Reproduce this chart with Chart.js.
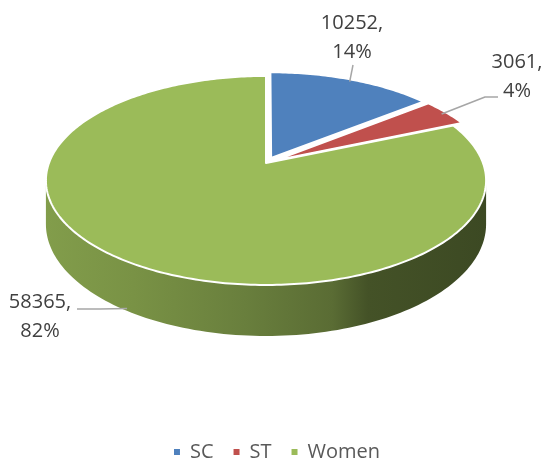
<!DOCTYPE html>
<html>
<head>
<meta charset="utf-8">
<script src="https://cdn.jsdelivr.net/npm/chart.js@4.4.1/dist/chart.umd.min.js"></script>
<style>
  html, body { margin: 0; padding: 0; background: #fff; overflow: hidden; }
  #wrap { width: 546px; height: 472px; position: relative; }
</style>
</head>
<body>
<div id="wrap"><canvas id="myChart"></canvas></div>
<script>
const categories = ["SC", "ST", "Women"];
const values = [10252, 3061, 58365];
const sliceColors = ["#4f81bd", "#c0504d", "#9bbb59"];

const FONT = "'Open Sans', 'Noto Sans', sans-serif";

// 3d look: the unit circle is squashed with a bit of perspective
const CX = 266, CY = 163;      // apex of the pie
const RX = 217, RY = 101.6;
const PERSP = 0.167;           // near side bigger than far side
const DEPTH = 42.5;            // thickness

// label text spots (baseline of first line) and leader starts
const labelPos = [[352, 29], [517, 68], [40, 308]];
const leaderStart = [[353, 65], [498, 97], [77, 309]];
const leaderElbow = [null, [485, 97], [100, 309]];

function proj(u, v, down) {
  const w = 1 - PERSP * v;
  return [CX + RX * u / w, CY + (RY * v + (down || 0)) / w];
}

function shade(hex, f) {
  const n = parseInt(hex.slice(1), 16);
  const r = Math.round(((n >> 16) & 255) * f);
  const g = Math.round(((n >> 8) & 255) * f);
  const b = Math.round((n & 255) * f);
  return `rgb(${r},${g},${b})`;
}

function explodeOf(el) {
  const d = (el.options.offset || 0) / 100;
  const mid = (el.startAngle + el.endAngle) / 2;
  return [Math.cos(mid) * d, Math.sin(mid) * d];
}

// whole percents that add up to 100 (largest remainder)
function percents(vals) {
  const total = vals.reduce((a, b) => a + b, 0);
  const raw = vals.map(v => v / total * 100);
  const out = raw.map(Math.floor);
  let left = 100 - out.reduce((a, b) => a + b, 0);
  raw.map((r, i) => [r - Math.floor(r), i])
    .sort((a, b) => b[0] - a[0])
    .forEach(([, i]) => { if (left > 0) { out[i]++; left--; } });
  return out;
}

const pie3d = {
  id: 'pie3d',
  beforeDatasetsDraw(chart) {
    const ctx = chart.ctx;
    const arcs = chart.getDatasetMeta(0).data;
    const lo = Math.asin(PERSP), hi = Math.PI - Math.asin(PERSP);

    // side walls first
    arcs.forEach((el, i) => {
      const a = Math.max(el.startAngle, lo), b = Math.min(el.endAngle, hi);
      if (a >= b) return;
      const [ox, oy] = explodeOf(el);
      const grad = ctx.createLinearGradient(CX - RX * 1.02, 0, CX + RX * 1.02, 0);
      const base = sliceColors[i];
      [[0, 0.84], [0.2, 0.78], [0.45, 0.68], [0.65, 0.58], [0.73, 0.44], [1, 0.39]]
        .forEach(s => grad.addColorStop(s[0], shade(base, s[1])));
      ctx.beginPath();
      const n = 120;
      for (let k = 0; k <= n; k++) {
        const t = a + (b - a) * k / n;
        const p = proj(ox + Math.cos(t), oy + Math.sin(t));
        k ? ctx.lineTo(p[0], p[1]) : ctx.moveTo(p[0], p[1]);
      }
      for (let k = n; k >= 0; k--) {
        const t = a + (b - a) * k / n;
        const p = proj(ox + Math.cos(t), oy + Math.sin(t), DEPTH);
        ctx.lineTo(p[0], p[1]);
      }
      ctx.closePath();
      ctx.fillStyle = grad;
      ctx.fill();
    });

    // top faces
    arcs.forEach((el, i) => {
      const [ox, oy] = explodeOf(el);
      const s = el.startAngle, e = el.endAngle;
      ctx.beginPath();
      const c = proj(ox, oy);
      ctx.moveTo(c[0], c[1]);
      const n = Math.max(8, Math.ceil((e - s) * 60));
      for (let k = 0; k <= n; k++) {
        const t = s + (e - s) * k / n;
        const p = proj(ox + Math.cos(t), oy + Math.sin(t));
        ctx.lineTo(p[0], p[1]);
      }
      ctx.closePath();
      ctx.fillStyle = sliceColors[i];
      ctx.fill();
      ctx.lineWidth = 2;
      ctx.lineJoin = 'round';
      ctx.strokeStyle = '#ffffff';
      ctx.stroke();
    });
    return false;
  },
  afterDraw(chart) {
    const ctx = chart.ctx;
    const arcs = chart.getDatasetMeta(0).data;
    const pcts = percents(values);
    ctx.save();
    arcs.forEach((el, i) => {
      // leader line to the slice
      const [ox, oy] = explodeOf(el);
      const mid = (el.startAngle + el.endAngle) / 2;
      const front = Math.sin(mid) > 0.3;
      const end = front
        ? proj(ox + Math.cos(mid), oy + Math.sin(mid), DEPTH * 0.95)
        : proj(ox + 0.97 * Math.cos(mid), oy + 0.97 * Math.sin(mid));
      ctx.beginPath();
      ctx.moveTo(leaderStart[i][0], leaderStart[i][1]);
      if (leaderElbow[i]) ctx.lineTo(leaderElbow[i][0], leaderElbow[i][1]);
      ctx.lineTo(end[0], end[1]);
      ctx.strokeStyle = '#a6a6a6';
      ctx.lineWidth = 1.5;
      ctx.stroke();

      ctx.fillStyle = '#404040';
      ctx.font = `20px ${FONT}`;
      ctx.textAlign = 'center';
      ctx.textBaseline = 'alphabetic';
      ctx.fillText(values[i] + ',', labelPos[i][0], labelPos[i][1]);
      ctx.fillText(pcts[i] + '%', labelPos[i][0], labelPos[i][1] + 29);
    });
    ctx.restore();
  }
};

new Chart("myChart", {
  type: "pie",
  data: {
    labels: categories,
    datasets: [{
      data: values,
      backgroundColor: sliceColors,
      borderWidth: 0,
      offset: [5.5, 5.5, 0]
    }]
  },
  options: {
    responsive: true,
    maintainAspectRatio: false,
    animation: false,
    layout: { padding: { left: 8, bottom: 0 } },
    plugins: {
      legend: {
        position: 'bottom',
        labels: {
          boxWidth: 6,
          boxHeight: 6,
          padding: 20,
          color: '#595959',
          font: { size: 20, family: FONT }
        }
      },
      tooltip: { enabled: false }
    }
  },
  plugins: [pie3d]
});
</script>
</body>
</html>
